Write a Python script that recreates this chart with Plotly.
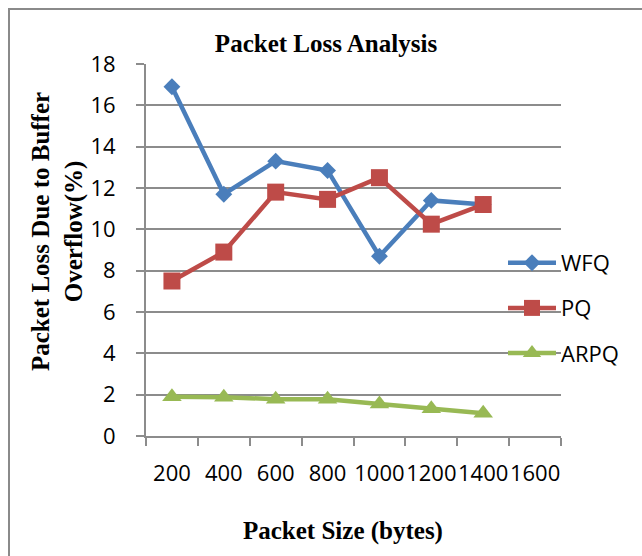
import plotly.graph_objects as go

categories = ["200", "400", "600", "800", "1000", "1200", "1400", "1600"]
wfq = [16.9, 11.7, 13.3, 12.85, 8.7, 11.4, 11.2]
pq = [7.5, 8.9, 11.8, 11.45, 12.5, 10.25, 11.2]
arpq = [1.9, 1.88, 1.78, 1.78, 1.55, 1.32, 1.1]
y_ticks = list(range(0, 19, 2))

W, H = 642, 556
L, R, T, B = 146, 561, 64, 436
pw, ph = R - L, B - T

def px_x(x):
    return (x - L) / pw

def px_y(y):
    return (B - y) / ph

grid = "#8c8c8c"
tick_font = dict(family="Open Sans, Liberation Sans, sans-serif", size=22, color="#000000")
serif_bold = dict(family="Liberation Serif, Times New Roman, serif", size=25, color="#000000")

fig = go.Figure()
series = [
    ("WFQ", wfq, "#4A7EBB", "diamond", 13),
    ("PQ", pq, "#BE4B48", "square", 17),
    ("ARPQ", arpq, "#98B954", "triangle-up", 17),
]
for name, vals, col, sym, sz in series:
    fig.add_trace(go.Scatter(
        x=categories[:len(vals)], y=vals, name=name, mode="lines+markers",
        legendgroup=name,
        line=dict(color=col, width=4.5),
        marker=dict(symbol=sym, size=sz, color=col, line=dict(width=0)),
    ))

fig.update_layout(
    width=W, height=H,
    margin=dict(l=L, r=W - R, t=T, b=H - B, autoexpand=False),
    paper_bgcolor="white", plot_bgcolor="white",
    title=dict(text="<b>Packet Loss Analysis</b>", font=serif_bold,
               x=326 / W, xref="container", xanchor="center",
               y=1 - 43 / H, yref="container", yanchor="middle"),
    showlegend=True,
    legend=dict(x=px_x(503), y=px_y(242), xanchor="left", yanchor="top",
                font=tick_font, bgcolor="rgba(0,0,0,0)", tracegroupgap=13.5,
                itemwidth=48),
    xaxis=dict(type="category", categoryorder="array", categoryarray=categories,
               range=[-0.5, len(categories) - 0.5], showgrid=False, automargin=False,
               showline=True, linecolor=grid, linewidth=2,
               ticks="outside", ticklen=8, tickcolor=grid, tickwidth=2, tickangle=0,
               tickson="boundaries", tickfont=tick_font, ticklabelstandoff=17),
    yaxis=dict(range=[0, 18], tickvals=y_ticks, showgrid=True, gridcolor=grid,
               gridwidth=1.5, zeroline=False, automargin=False,
               showline=True, linecolor=grid, linewidth=2,
               ticks="outside", ticklen=8, tickcolor=grid, tickwidth=2,
               tickfont=tick_font, ticklabelstandoff=16),
    annotations=[
        dict(text="<b>Packet Loss Due to Buffer<br>Overflow(%)</b>", textangle=-90,
             xref="paper", yref="paper", x=px_x(57), y=px_y(232),
             xanchor="center", yanchor="middle", showarrow=False, font=serif_bold),
        dict(text="<b>Packet Size (bytes)</b>",
             xref="paper", yref="paper", x=px_x(343), y=px_y(531),
             xanchor="center", yanchor="middle", showarrow=False, font=serif_bold),
    ],
    shapes=[
        dict(type="rect", xref="paper", yref="paper",
             x0=px_x(9), x1=px_x(700), y0=px_y(600), y1=px_y(9),
             line=dict(color="#8a8a8a", width=2), layer="below"),
    ],
)

fig.write_html("out.html", config={"displayModeBar": False},
               post_script="document.body.style.margin='0';document.body.style.overflow='hidden';")
